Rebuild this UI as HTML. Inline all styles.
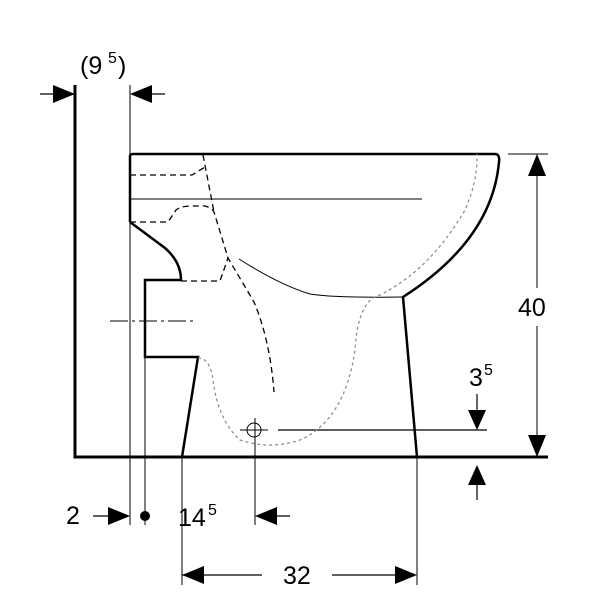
<!DOCTYPE html>
<html><head><style>body{margin:0;background:#fff}svg{display:block}text{font-family:"Liberation Sans",sans-serif;fill:#000}</style></head>
<body><svg width="600" height="600" viewBox="0 0 600 600" xmlns="http://www.w3.org/2000/svg">
<g fill="none" stroke="#000">
<path d="M75 85V457H548" stroke-width="3"/>
<path d="M130 222V156Q130 154 133 154H495Q500 154 499 162Q492 240 403 297L417 457" stroke-width="2.5"/>
<path d="M130 222L165 248Q181 262 181 280H145V357H198L182 457" stroke-width="2.5"/>
<path d="M130 199H422" stroke-width="1"/>
<path d="M239 259Q280 285 310 294Q335 298 402 297" stroke-width="1"/>
<path d="M278 430H487" stroke-width="1.2"/>
<g stroke-dasharray="6,4" stroke-width="1.3">
<path d="M130 175H192L205 167"/>
<path d="M203 155L214 212"/>
<path d="M130 222H168L176 210Q181 206 192 206H205Q212 208 214 212L228 258L254 302Q270 340 274 392"/>
<path d="M181 281H220L228 258"/>
</g>
<g stroke="#888" stroke-dasharray="3,3" stroke-width="1.2">
<path d="M198 358Q210 358 213 380Q218 420 240 440Q270 450 300 440Q345 420 355 350Q358 300 380 295Q430 270 465 210Q478 180 477 154"/>
</g>
<path d="M110 321H193" stroke-width="1" stroke-dasharray="18,4,3,4"/>
<path d="M130 85V525M145 358V525M182 457V585M417 457V585M255 418V525" stroke-width="1"/>
<circle cx="254" cy="430" r="7" stroke-width="1"/>
<path d="M240 430H268" stroke-width="1"/>
<path d="M508 154H548M537 165V288M537 326V447" stroke-width="1"/>
<path d="M477 394V412M477 500V484M40 94H55M150 94H165M93 516H110M270 516H290M182 575H262M332 575H398" stroke-width="1.2"/>
</g>
<g fill="#000">
<polygon points="75,94 53,85 53,103"/>
<polygon points="130,94 152,85 152,103"/>
<polygon points="537,154 528,176 546,176"/>
<polygon points="537,457 528,435 546,435"/>
<polygon points="477,430 468,410 486,410"/>
<polygon points="477,465 468,485 486,485"/>
<polygon points="130,516 108,507 108,525"/>
<polygon points="255,516 277,507 277,525"/>
<polygon points="182,575 204,566 204,584"/>
<polygon points="417,575 395,566 395,584"/>
<circle cx="145" cy="516" r="5"/>
</g>
<text x="80" y="74" font-size="25">(9</text><text x="108" y="63" font-size="16">5</text><text x="118" y="74" font-size="25">)</text>
<text x="518" y="316" font-size="25">40</text>
<text x="469" y="386" font-size="25">3</text><text x="484" y="375" font-size="16">5</text>
<text x="66" y="524" font-size="25">2</text>
<text x="178" y="526" font-size="25">14</text><text x="208" y="515" font-size="16">5</text>
<text x="283" y="584" font-size="25">32</text>
</svg></body></html>
